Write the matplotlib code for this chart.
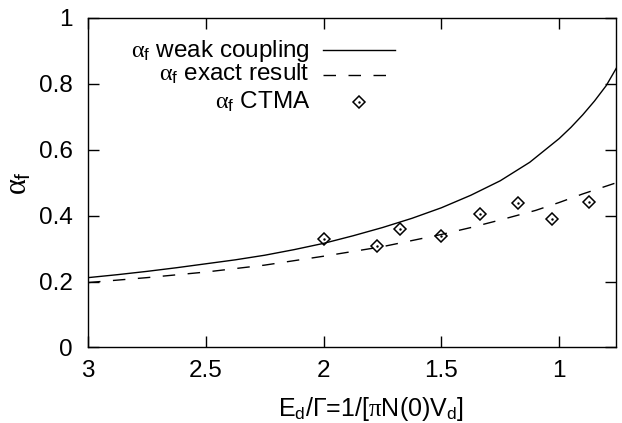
import numpy as np
import matplotlib
matplotlib.use('Agg')
import matplotlib.pyplot as plt
from matplotlib.lines import Line2D

plt.rcParams['font.family'] = ['Liberation Sans', 'DejaVu Sans']
plt.rcParams['mathtext.fontset'] = 'custom'
plt.rcParams['mathtext.rm'] = 'Liberation Sans'
plt.rcParams['mathtext.it'] = 'Liberation Serif'
plt.rcParams['mathtext.sf'] = 'Liberation Sans'

# weak coupling curve
x_weak = [3.0, 2.875, 2.75, 2.625, 2.5, 2.375, 2.25, 2.125, 2.0, 1.875, 1.75, 1.625, 1.5,
          1.375, 1.25, 1.125, 1.0, 0.95, 0.9, 0.85, 0.8, 0.757]
y_weak = [0.212, 0.221, 0.231, 0.242, 0.254, 0.266, 0.280, 0.297, 0.316, 0.339, 0.364, 0.392, 0.424,
          0.462, 0.506, 0.562, 0.634, 0.668, 0.706, 0.748, 0.795, 0.848]

# exact result curve
x_exact = [3.0, 2.75, 2.5, 2.25, 2.0, 1.75, 1.5, 1.375, 1.25, 1.1, 1.0, 0.9, 0.757]
y_exact = [0.197, 0.212, 0.229, 0.250, 0.277, 0.306, 0.343, 0.364, 0.387, 0.416, 0.440, 0.466, 0.50]

# CTMA points
x_ctma = [2.0, 1.772, 1.676, 1.503, 1.335, 1.173, 1.032, 0.872]
y_ctma = [0.328, 0.308, 0.359, 0.337, 0.406, 0.44, 0.389, 0.442]

xticks = [3, 2.5, 2, 1.5, 1]
yticks = [0, 0.2, 0.4, 0.6, 0.8, 1]

dash = (9, 9)

fig = plt.figure(figsize=(6.22, 4.23), dpi=100)
ax = fig.add_axes([0.1415, 0.1785, 0.8495, 0.779])

ax.plot(x_weak, y_weak, color='black', lw=1.0)
ax.plot(x_exact, y_exact, color='black', lw=1.0, dashes=dash)
ax.plot(x_ctma, y_ctma, ls='none', marker='D', ms=6.5, mfc='none', mec='black', mew=1.1)
ax.plot(x_ctma, y_ctma, ls='none', marker='.', ms=1.5, color='black')

ax.set_xlim(3, 0.757)
ax.set_ylim(0, 1)
ax.set_xticks(xticks)
ax.set_xticklabels(['3', '2.5', '2', '1.5', '1'])
ax.set_yticks(yticks)
ax.set_yticklabels(['0', '0.2', '0.4', '0.6', '0.8', '1'])
ax.tick_params(direction='in', length=8, width=1.0, top=True, right=True, labelsize=17.5)
ax.tick_params(axis='y', pad=11)
ax.tick_params(axis='x', pad=9)
for s in ax.spines.values():
    s.set_linewidth(1.0)

ax.set_ylabel(r'$\mathit{\alpha}_{\mathrm{f}}$', fontsize=22)
ax.yaxis.set_label_coords(-0.104, 0.5)
ax.set_xlabel(r'E$_{\mathrm{d}}$/$\mathit{\Gamma}$=1/[$\mathit{\pi}$N(0)V$_{\mathrm{d}}$]', fontsize=18)
ax.xaxis.set_label_coords(0.535, -0.145)

# legend, gnuplot style: right-aligned text then sample
labels = [r'$\mathit{\alpha}_{\mathrm{f}}$ weak coupling', r'$\mathit{\alpha}_{\mathrm{f}}$ exact result',
          r'$\mathit{\alpha}_{\mathrm{f}}$ CTMA']
rows = [0.8826, 0.8088, 0.726]
keys = [0.903, 0.827, 0.746]
for lab, yy in zip(labels, rows):
    ax.text(0.42, yy, lab, transform=ax.transAxes, ha='right', va='baseline', fontsize=17.5)
ax.add_line(Line2D([0.444, 0.581], [keys[0], keys[0]], transform=ax.transAxes, color='black', lw=1.0))
ax.add_line(Line2D([0.444, 0.581], [keys[1], keys[1]], transform=ax.transAxes, color='black', lw=1.0, dashes=dash))
ax.plot([0.5125], [keys[2]], transform=ax.transAxes, ls='none', marker='D', ms=6.5, mfc='none', mec='black', mew=1.1)
ax.plot([0.5125], [keys[2]], transform=ax.transAxes, ls='none', marker='.', ms=1.5, color='black')

fig.savefig('out.png', dpi=100)
